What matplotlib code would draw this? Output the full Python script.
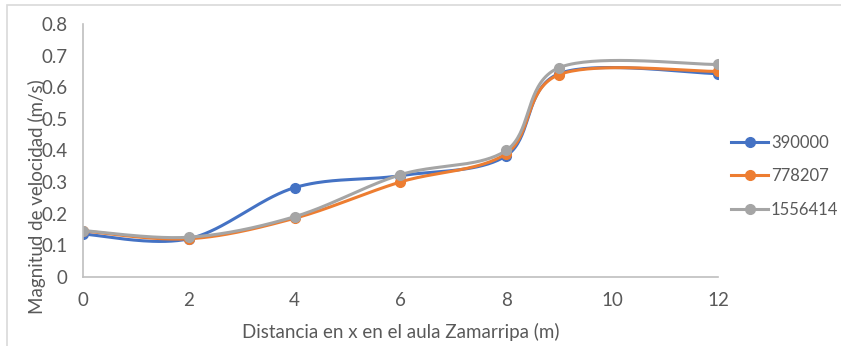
import numpy as np
import matplotlib.pyplot as plt
from matplotlib.patches import Rectangle

# distancia a lo largo del aula (m)
x = [0, 2, 4, 6, 8, 9, 12]

# magnitud de velocidad para cada malla
v_390000 = [0.135, 0.120, 0.282, 0.320, 0.383, 0.643, 0.643]
v_778207 = [0.145, 0.120, 0.185, 0.300, 0.390, 0.640, 0.650]
v_1556414 = [0.146, 0.125, 0.190, 0.323, 0.400, 0.662, 0.672]

series_names = ["390000", "778207", "1556414"]
colors = ["#4472C4", "#ED7D31", "#A5A5A5"]

plt.rcParams['font.family'] = ['Lato', 'DejaVu Sans']


def smooth(xs, ys, n=40):
    """Curva suavizada tipo Excel (Catmull-Rom con Bezier cubicas)"""
    p = np.column_stack([xs, ys]).astype(float)
    p_ext = np.vstack([p[0], p, p[-1]])
    out = []
    t = np.linspace(0, 1, n)[:, None]
    for i in range(len(p) - 1):
        p0, p1, p2, p3 = p_ext[i], p_ext[i + 1], p_ext[i + 2], p_ext[i + 3]
        c1 = p1 + (p2 - p0) / 6
        c2 = p2 - (p3 - p1) / 6
        seg = ((1 - t) ** 3 * p1 + 3 * (1 - t) ** 2 * t * c1
               + 3 * (1 - t) * t ** 2 * c2 + t ** 3 * p2)
        out.append(seg if i == 0 else seg[1:])
    out = np.vstack(out)
    return out[:, 0], out[:, 1]


fig = plt.figure(figsize=(8.41, 3.46), dpi=100)
ax = fig.add_axes([0.0987, 0.2003, 0.755, 0.7303])

# marco exterior del grafico
fig.patches.append(Rectangle((7 / 841, -0.1), 1.2, 1 - 5 / 346 + 0.1,
                             transform=fig.transFigure, fill=False,
                             edgecolor="#D9D9D9", linewidth=1.2))

for ys, name, c in zip([v_390000, v_778207, v_1556414], series_names, colors):
    sx, sy = smooth(x, ys)
    ax.plot(sx, sy, color=c, linewidth=2.2, solid_capstyle="round")
    ax.plot(x, ys, linestyle="none", marker="o", markersize=7,
            color=c)
    ax.plot([], [], color=c, linewidth=2.2, marker="o", markersize=7,
            label=name)

ax.set_xlim(0, 12)
ax.set_ylim(0, 0.8)
ax.set_xticks(range(0, 13, 2))
ax.set_yticks(np.arange(0, 0.81, 0.1))
ax.set_yticklabels(["0", "0.1", "0.2", "0.3", "0.4", "0.5", "0.6", "0.7", "0.8"])

for s in ["top", "right"]:
    ax.spines[s].set_visible(False)
for s in ["left", "bottom"]:
    ax.spines[s].set_color("#BFBFBF")
    ax.spines[s].set_linewidth(1.2)

fs = 13.5
ax.tick_params(length=0, labelsize=fs, labelcolor="#595959")
ax.tick_params(axis="y", pad=11)
ax.tick_params(axis="x", pad=11)

ax.set_xlabel("Distancia en x en el aula Zamarripa (m)", fontsize=fs,
              color="#595959", labelpad=10)
ax.set_ylabel("Magnitud de velocidad (m/s)", fontsize=fs, color="#595959")
ax.yaxis.set_label_coords(-0.058, 0.316)

ax.legend(loc="center left", bbox_to_anchor=(0.869, 0.491),
          bbox_transform=fig.transFigure, frameon=False,
          fontsize=12, labelcolor="#595959", handlelength=2.25,
          handletextpad=0.15, labelspacing=1.05, borderpad=0,
          borderaxespad=0)

fig.savefig("out.png", dpi=100)
